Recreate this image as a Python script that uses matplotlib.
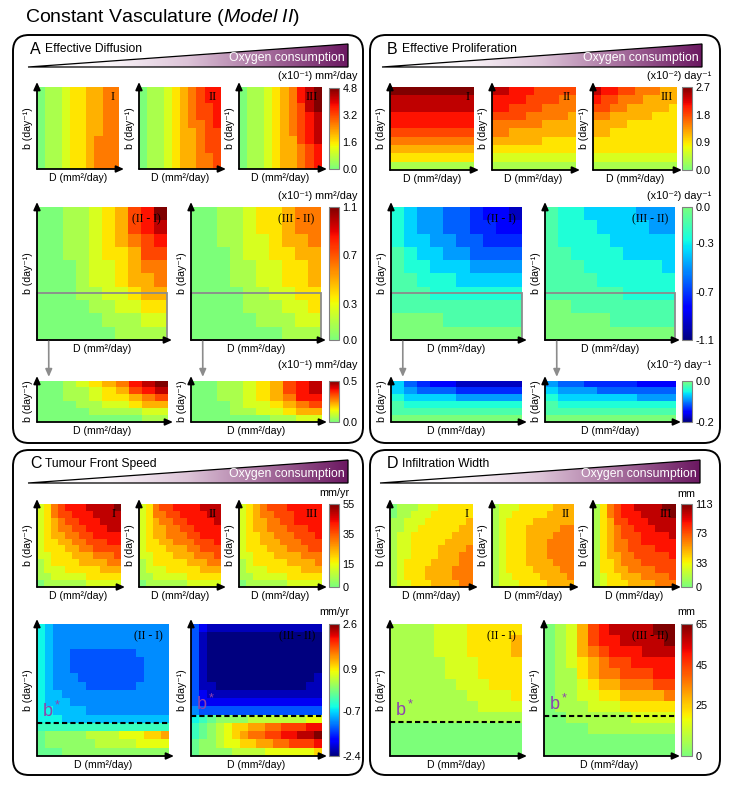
import numpy as np
import matplotlib.pyplot as plt
from matplotlib.colors import ListedColormap, LinearSegmentedColormap
from matplotlib.patches import FancyBboxPatch, Polygon, Rectangle

plt.rcParams['font.family'] = ['Liberation Sans', 'DejaVu Sans']
plt.rcParams['mathtext.fontset'] = 'custom'
plt.rcParams['mathtext.rm'] = 'Liberation Sans'
plt.rcParams['mathtext.it'] = 'Liberation Sans:italic'

# colour levels: 0 = bottom of its colour bar, 9 (or J) = top
# rows run from high b (top) to low b (bottom), columns from low D to high D
LEVEL_CHARS = "0123456789ABCDEFGHIJ"

# A  effective diffusion
diff_I = ["0112334455", "0112334455", "0112334455", "0112334455", "0112334455",
          "0112334455", "0112334555", "0112334555", "0112334555", "0112334555"]
diff_II = ["0112345677", "0112345677", "0112345667", "0112345667", "0112345567",
           "0112344566", "0112344566", "0112344566", "0112344556", "0112344556"]
diff_III = ["0112345789", "0112345789", "0112345689", "0112345678", "0112345678",
            "0112345678", "0112344678", "0112344567", "0112344567", "0112344567"]
diff_II_I = ["0011234679", "0011234678", "0011234567", "0011233466", "0001223455",
             "0001223445", "0001122344", "0000112233", "0000011122", "0000001111"]
diff_III_II = ["0011233455", "0011233455", "0011223445", "0001223344", "0001122334",
               "0001122334", "0000112233", "0000111223", "0000011122", "0000000111"]
diff_low_II_I = ["0012345789", "0011234678", "0011233456",
                 "0001122344", "0000111122", "0000000011"]
diff_low_III_II = ["0011234678", "0011234678", "0011234577",
                   "0001223456", "0001122344", "0000001122"]

# B  effective proliferation
prol_I = ["9999999999", "8888888888", "8888888888", "7777777777", "7777777777",
          "6666666666", "5555555555", "4444444444", "3333333333", "1111111111"]
prol_II = ["8877766666", "7777666655", "7766665555", "6666555554", "5555554444",
           "5544444444", "4444443333", "3333333333", "2222222222", "1111111111"]
prol_III = ["8776655544", "7665554444", "6655444443", "5544444333", "4444333333",
            "4433333333", "3333333333", "3333333333", "2222222222", "1111111111"]
prol_II_I = ["7655443221", "7655443322", "7665544333", "8766554444", "8776665555",
             "8877766666", "8887777777", "8888888888", "9999888888", "9999999999"]
prol_III_II = ["8776666555", "8777666655", "8777766666", "8877776666", "8887777776",
               "8888777777", "8888887777", "9988888888", "9999988888", "9999999999"]
prol_low_II_I = ["6432211111", "6544433333", "7666655555",
                 "8777777777", "8888888888", "9999999999"]
prol_low_III_II = ["5443333222", "6555444444", "7666666555",
                   "8777777777", "8888888888", "9999999999"]

# C  tumour front speed
speed_I = ["235677788889", "235667778888", "234566777888", "234556677788",
           "234455667777", "233445566677", "233344556666", "223334445556",
           "123333444455", "122233333444", "112222233333", "011111122222"]
speed_II = ["235667777888", "235566777788", "234556677778", "234455667777",
            "234455566777", "233445556667", "233344455666", "223334445556",
            "123333344455", "122233333444", "112222233333", "011111122222"]
speed_III = ["234566677777", "234556667777", "234455667777", "234455566677",
             "233445556667", "233444555666", "233344455566", "223334444555",
             "123333344445", "122233333444", "112222233333", "011111122222"]
# the two speed differences use 20 levels (0..J)
speed_II_I = ["7655555555555555", "7655555555555555", "7655555555555555",
              "7655444444445555", "7655444444444555", "7655444444444555",
              "7655544444444555", "7655554444445555", "7665555555555555",
              "7666555555555555", "7766665555555555", "7776666666666666",
              "8888888888888888", "9AAAAABBBBCCCDDE", "9AAAAAABBBBBCCCC",
              "999AAAAAAAAAAAAA"]
speed_III_II = ["4211111111111111", "4100000000000000", "4100000000000000",
                "4100000000000000", "4100000000000000", "4100000000000000",
                "4100000000000001", "4110000000000011", "4211111111111111",
                "4222222222222222", "5444444444444444", "789AAAABBBBBBBCC",
                "89ABCDDEEFFGGGHH", "89ABCDEFFGGHHIIJ", "9AABCCDDEEFFGGGH",
                "9AAAABBBBCCCCCCD"]

# D  infiltration width
width_I = ["011122233333", "011222333333", "112223333334", "112233333344",
           "122333333444", "122333334444", "122333344445", "122333344455",
           "123333444455", "123334444555", "123334444555", "122333444455"]
width_II = ["122233333444", "122333334444", "123333444444", "123334444455",
            "123334444555", "123334445555", "123334445555", "123334445555",
            "123334444555", "123333444455", "122333344445", "122233334444"]
width_III = ["135677888899", "135677788889", "134667778888", "134566777888",
             "134566677778", "134556677777", "134556666777", "134455666667",
             "133455566666", "133445555666", "123344455556", "123334444555"]
width_II_I = ["111122233333", "111122233334", "111122233334", "111112223333",
              "111112223333", "111111222333", "111111122223", "111111112222",
              "111111111111", "000000000000", "000000000000", "000000000000"]
width_III_II = ["012467888899", "012467788889", "012456777888", "012345667777",
                "011345566677", "011234455566", "011223344445", "011122233333",
                "001111112222", "000011111111", "000000000000", "000000000000"]

# colour bar ranges and tick labels
diff_top = (0.0, 4.8, ["0.0", "1.6", "3.2", "4.8"])
diff_mid = (0.0, 1.1, ["0.0", "0.3", "0.7", "1.1"])
diff_low = (0.0, 0.5, ["0.0", "0.5"])
prol_top = (0.0, 2.7, ["0.0", "0.9", "1.8", "2.7"])
prol_mid = (-1.1, 0.0, ["0.0", "-0.3", "-0.7", "-1.1"])
prol_low = (-0.2, 0.0, ["0.0", "-0.2"])
speed_top = (0, 55, ["0", "15", "35", "55"])
speed_bot = (-2.4, 2.6, ["2.6", "0.9", "-0.7", "-2.4"])
width_top = (0, 113, ["0", "33", "73", "113"])
width_bot = (0, 65, ["0", "25", "45", "65"])

zoom_b = 0.35                                  # b range shown enlarged in A/B
bstar = {'C21': 0.25, 'C32': 0.30, 'D21': 0.26, 'D32': 0.30}

W, H = 733, 791
fig = plt.figure(figsize=(W / 100, H / 100), dpi=100)

jet = plt.get_cmap('jet')
pos_cmap = ListedColormap(jet(np.linspace(0.5, 1, 256)))
neg_cmap = ListedColormap(jet(np.linspace(0, 0.5, 256)))
wedge_cmap = LinearSegmentedColormap.from_list(
    'oxy', ['#ffffff', '#fbf7fa', '#dcc3d7', '#a56d9c', '#6b1861'])

bg = fig.add_axes([0, 0, 1, 1])
bg.set_xlim(0, W)
bg.set_ylim(H, 0)
bg.axis('off')

bg.text(25, 18, r'Constant Vasculature ($\mathit{Model\ II}$)', fontsize=14,
        va='center', ha='left')


def panel(x0, y0, x1, y1, letter, title, wx0, wx1, wtop, wbot):
    bg.add_patch(FancyBboxPatch((x0, y0), x1 - x0, y1 - y0,
                                boxstyle='round,pad=0,rounding_size=16',
                                fc='white', ec='k', lw=1.4, zorder=1))
    bg.text(x0 + 17, y0 + 14, letter, fontsize=11.5, va='center')
    bg.text(x0 + 32, y0 + 14, title, fontsize=8.7, va='center')
    tri = Polygon([(wx0, wbot), (wx1, wtop), (wx1, wbot)], closed=True,
                  fc='none', ec='k', lw=0.9, zorder=3)
    im = bg.imshow(np.linspace(0, 1, 256)[None, :], cmap=wedge_cmap,
                   extent=[wx0, wx1, wbot, wtop], aspect='auto', zorder=2)
    bg.add_patch(tri)
    im.set_clip_path(tri)
    bg.text(wx1 - 3, wbot - 9, 'Oxygen consumption', color='white',
            fontsize=8.8, ha='right', va='center', zorder=4)


panel(13, 35, 363, 443, 'A', 'Effective Diffusion', 28, 348, 44, 67)
panel(370, 35, 720, 443, 'B', 'Effective Proliferation', 382, 702, 44, 67)
panel(13, 450, 363, 775, 'C', 'Tumour Front Speed', 28, 348, 460, 483)
panel(370, 450, 720, 775, 'D', 'Infiltration Width', 380, 700, 460, 483)
bg.set_xlim(0, W)
bg.set_ylim(H, 0)


def add_ax(box):
    x0, y0, x1, y1 = box
    return fig.add_axes([x0 / W, 1 - y1 / H, (x1 - x0) / W, (y1 - y0) / H])


def heat(box, rows, cmap, rng, tag=None, tagsize=9, top=9):
    lo, hi = rng[0], rng[1]
    lev = np.array([[LEVEL_CHARS.index(c) for c in r] for r in rows], float)
    ax = add_ax(box)
    im = ax.imshow(lo + lev / top * (hi - lo), cmap=cmap, vmin=lo, vmax=hi,
                   extent=[0, 1, 0, 1], aspect='auto', interpolation='nearest')
    ax.set_xlim(0, 1)
    ax.set_ylim(0, 1)
    ax.set_xticks([])
    ax.set_yticks([])
    for s in ax.spines.values():
        s.set_visible(False)
    ex = 5 / (box[2] - box[0])
    ey = 5 / (box[3] - box[1])
    arr = dict(arrowstyle='-|>,head_length=0.45,head_width=0.2', color='k',
               lw=1.3, shrinkA=0, shrinkB=0)
    ax.annotate('', xy=(0, 1 + ey), xytext=(0, 0), xycoords='axes fraction',
                arrowprops=arr, annotation_clip=False)
    ax.annotate('', xy=(1 + ex, 0), xytext=(0, 0), xycoords='axes fraction',
                arrowprops=arr, annotation_clip=False)
    ax.set_xlabel('D (mm²/day)', fontsize=7.6, labelpad=3)
    ax.set_ylabel('b (day⁻¹)', fontsize=7.6, labelpad=3)
    if tag:
        ax.text(0.95, 0.95, tag, transform=ax.transAxes, ha='right', va='top',
                family='Liberation Serif', fontsize=tagsize)
    return ax, im


def cbar(box, im, rng, units, ux, uy, ha='right'):
    cax = add_ax(box)
    labels = rng[2]
    ticks = [float(t) for t in labels]
    cb = fig.colorbar(im, cax=cax, ticks=ticks)
    cb.ax.set_yticklabels(labels)
    cb.ax.tick_params(length=0, pad=2.5, labelsize=7.8)
    cb.outline.set_edgecolor('#808080')
    cb.outline.set_linewidth(0.8)
    bg.text(ux, uy, units, fontsize=7.8, ha=ha, va='center')


def zoom_link(ax_mid, ax_low):
    ax_mid.add_patch(Rectangle((0, 0), 1, zoom_b, fill=False, ec='#8c8c8c',
                               lw=1.3, clip_on=False))
    ax_mid.annotate('', xy=(0.09, 1.1), xycoords=ax_low.transAxes,
                    xytext=(0.09, -0.01), textcoords=ax_mid.transAxes,
                    arrowprops=dict(arrowstyle='-|>,head_length=0.45,head_width=0.2',
                                    color='#8c8c8c', lw=1.2, shrinkA=0, shrinkB=0),
                    annotation_clip=False)


def mark_bstar(ax, b):
    ax.axhline(b, color='k', lw=1.5, ls=(0, (2.5, 1.5)))
    ax.text(0.035, b + 0.015, 'b$^*$', color='#8e44ad', fontsize=13,
            ha='left', va='bottom', transform=ax.get_yaxis_transform())


# ---- A
u_diff = '(x10⁻¹) mm²/day'
heat((37, 87, 119, 169), diff_I, pos_cmap, diff_top, 'I')
heat((139, 87, 221, 169), diff_II, pos_cmap, diff_top, 'II')
_, im = heat((239, 87, 322, 169), diff_III, pos_cmap, diff_top, 'III')
cbar((329, 88, 339, 169), im, diff_top, u_diff, 357, 76)
a1, _ = heat((37, 207, 167, 340), diff_II_I, pos_cmap, diff_mid, '(II - I)', 8.5)
a2, im = heat((191, 207, 321, 340), diff_III_II, pos_cmap, diff_mid, '(III - II)', 8.5)
cbar((329, 207, 339, 340), im, diff_mid, u_diff, 357, 196)
l1, _ = heat((37, 381, 168, 422), diff_low_II_I, pos_cmap, diff_low)
l2, im = heat((191, 381, 322, 422), diff_low_III_II, pos_cmap, diff_low)
cbar((329, 381, 339, 422), im, diff_low, u_diff, 357, 365)
zoom_link(a1, l1)
zoom_link(a2, l2)

# ---- B
u_prol = '(x10⁻²) day⁻¹'
heat((390, 87, 474, 170), prol_I, pos_cmap, prol_top, 'I')
heat((492, 87, 575, 170), prol_II, pos_cmap, prol_top, 'II')
_, im = heat((593, 87, 677, 170), prol_III, pos_cmap, prol_top, 'III')
cbar((682, 87, 692, 170), im, prol_top, u_prol, 711, 76)
b1, _ = heat((391, 207, 522, 340), prol_II_I, neg_cmap, prol_mid, '(II - I)', 8.5)
b2, im = heat((545, 207, 675, 340), prol_III_II, neg_cmap, prol_mid, '(III - II)', 8.5)
cbar((682, 207, 692, 340), im, prol_mid, u_prol, 711, 196)
m1, _ = heat((391, 381, 522, 422), prol_low_II_I, neg_cmap, prol_low)
m2, im = heat((545, 381, 676, 422), prol_low_III_II, neg_cmap, prol_low)
cbar((682, 381, 692, 422), im, prol_low, u_prol, 711, 365)
zoom_link(b1, m1)
zoom_link(b2, m2)

# ---- C
heat((37, 504, 120, 587), speed_I, pos_cmap, speed_top, 'I')
heat((139, 504, 221, 587), speed_II, pos_cmap, speed_top, 'II')
_, im = heat((239, 504, 322, 587), speed_III, pos_cmap, speed_top, 'III')
cbar((329, 504, 339, 587), im, speed_top, 'mm/yr', 334, 493, 'center')
c1, _ = heat((37, 624, 169, 756), speed_II_I, jet, speed_bot, '(II - I)', 8.5, top=19)
c2, im = heat((191, 624, 322, 756), speed_III_II, jet, speed_bot, '(III - II)', 8.5, top=19)
cbar((329, 624, 339, 756), im, speed_bot, 'mm/yr', 334, 612, 'center')
mark_bstar(c1, bstar['C21'])
mark_bstar(c2, bstar['C32'])

# ---- D
heat((390, 504, 473, 587), width_I, pos_cmap, width_top, 'I')
heat((492, 504, 574, 587), width_II, pos_cmap, width_top, 'II')
_, im = heat((593, 504, 676, 587), width_III, pos_cmap, width_top, 'III')
cbar((681, 504, 692, 587), im, width_top, 'mm', 686, 494, 'center')
d1, _ = heat((390, 624, 522, 756), width_II_I, pos_cmap, width_bot, '(II - I)', 8.5)
d2, im = heat((544, 624, 675, 756), width_III_II, pos_cmap, width_bot, '(III - II)', 8.5)
cbar((681, 624, 692, 756), im, width_bot, 'mm', 686, 612, 'center')
mark_bstar(d1, bstar['D21'])
mark_bstar(d2, bstar['D32'])

fig.savefig('out.png', dpi=100)
